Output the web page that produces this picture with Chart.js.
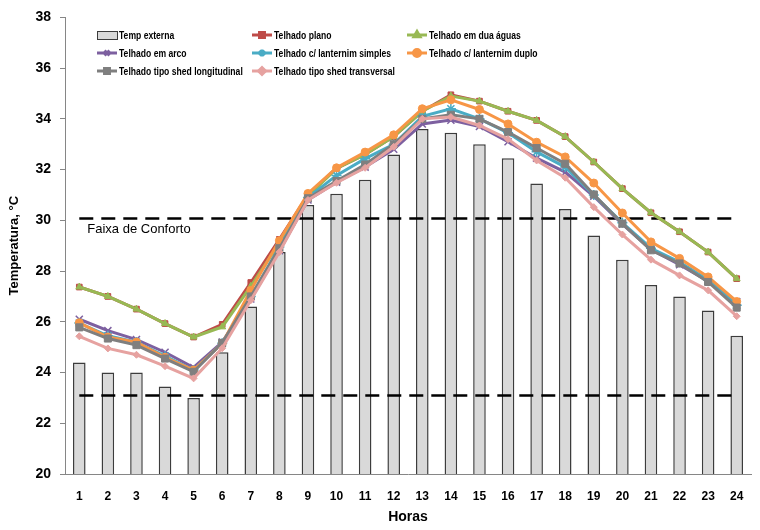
<!DOCTYPE html>
<html>
<head>
<meta charset="utf-8">
<script src="https://cdn.jsdelivr.net/npm/chart.js@4.4.1/dist/chart.umd.min.js"></script>
<style>
  html, body { margin: 0; padding: 0; background: #ffffff; }
  #wrap { width: 760px; height: 530px; }
</style>
</head>
<body>
<div id="wrap"><canvas id="c" width="760" height="530"></canvas></div>
<script>
// ---- Data ----
const HOURS = ['1','2','3','4','5','6','7','8','9','10','11','12','13','14','15','16','17','18','19','20','21','22','23','24'];
const SERIES_NAMES = ['Temp externa','Telhado plano','Telhado em dua águas','Telhado em arco','Telhado c/ lanternim simples','Telhado c/ lanternim duplo','Telhado tipo shed longitudinal','Telhado tipo shed transversal'];
const TEMP_EXTERNA = [24.4, 24.0, 24.0, 23.45, 23.0, 24.8, 26.6, 28.75, 30.6, 31.05, 31.6, 32.6, 33.6, 33.45, 33.0, 32.45, 31.45, 30.45, 29.4, 28.45, 27.45, 27.0, 26.45, 25.45];
const TELHADO_PLANO = [27.37, 27.0, 26.5, 25.93, 25.4, 25.9, 27.55, 29.25, 31.0, 32.05, 32.6, 33.3, 34.3, 34.95, 34.7, 34.3, 33.94, 33.3, 32.3, 31.25, 30.3, 29.55, 28.75, 27.7];
const TELHADO_DUAS_AGUAS = [27.37, 27.0, 26.5, 25.93, 25.4, 25.8, 27.4, 29.1, 30.95, 32.05, 32.6, 33.3, 34.3, 34.9, 34.7, 34.3, 33.94, 33.3, 32.3, 31.25, 30.3, 29.55, 28.75, 27.7];
const TELHADO_ARCO = [26.1, 25.65, 25.3, 24.8, 24.2, 25.2, 26.9, 28.8, 30.8, 31.5, 32.1, 32.8, 33.8, 33.95, 33.7, 33.1, 32.45, 31.9, 30.95, 29.85, 28.85, 28.25, 27.6, 26.8];
const TELHADO_LANT_SIMPLES = [25.95, 25.45, 25.2, 24.65, 24.1, 25.15, 27.0, 28.95, 30.9, 31.77, 32.43, 33.0, 34.1, 34.4, 34.0, 33.45, 32.7, 32.1, 31.0, 29.9, 28.9, 28.35, 27.65, 26.65];
const TELHADO_LANT_DUPLO = [25.96, 25.4, 25.2, 24.6, 24.1, 25.15, 27.24, 29.2, 31.06, 32.07, 32.69, 33.37, 34.4, 34.75, 34.37, 33.8, 33.08, 32.5, 31.47, 30.29, 29.15, 28.5, 27.77, 26.8];
const TELHADO_SHED_LONG = [25.78, 25.34, 25.08, 24.55, 24.03, 25.17, 27.0, 28.9, 30.87, 31.55, 32.2, 33.0, 34.0, 34.16, 34.0, 33.48, 32.85, 32.23, 31.02, 29.87, 28.82, 28.3, 27.57, 26.56];
const TELHADO_SHED_TRANSV = [25.43, 24.95, 24.7, 24.25, 23.77, 24.96, 26.85, 28.75, 30.8, 31.48, 32.07, 32.9, 34.0, 34.07, 33.74, 33.2, 32.36, 31.68, 30.52, 29.44, 28.45, 27.83, 27.24, 26.22];
const COMFORT_LIMITS = [23.1, 30.1];
const COMFORT_LABEL = 'Faixa de Conforto';
const Y_TICKS = [20, 22, 24, 26, 28, 30, 32, 34, 36, 38];
const X_TITLE = 'Horas';
const Y_TITLE = 'Temperatura, °C';

// ---- Styles ----
const FONT = "'Liberation Sans', Arial, sans-serif";
const LEGEND_FONT = "bold 11px 'Liberation Sans', Arial, sans-serif";
const LEGEND_SQUEEZE = 0.78;

function lineDs(label, data, color, style, radius, order) {
  return {
    type: 'line', label, data,
    borderColor: color, backgroundColor: color,
    pointBorderColor: color, pointBackgroundColor: color,
    borderWidth: 3, tension: 0,
    pointStyle: style, pointRadius: radius, pointBorderWidth: (style === 'crossRot' || style === 'star') ? 1.5 : 1,
    order
  };
}

const datasets = [
  { type: 'bar', label: SERIES_NAMES[0], data: TEMP_EXTERNA,
    backgroundColor: '#D9D9D9', borderColor: '#3c3c3c', borderWidth: 1.5,
    barPercentage: 0.44, categoryPercentage: 1.0, order: 20 },
  lineDs(SERIES_NAMES[1], TELHADO_PLANO, '#BE4B48', 'rect', 4, 8),
  lineDs(SERIES_NAMES[2], TELHADO_DUAS_AGUAS, '#98B954', 'triangle', 4, 7),
  lineDs(SERIES_NAMES[3], TELHADO_ARCO, '#7D60A0', 'crossRot', 5, 6),
  lineDs(SERIES_NAMES[4], TELHADO_LANT_SIMPLES, '#4AACC5', 'star', 5, 5),
  lineDs(SERIES_NAMES[5], TELHADO_LANT_DUPLO, '#F79646', 'circle', 4, 4),
  lineDs(SERIES_NAMES[6], TELHADO_SHED_LONG, '#7F7F7F', 'rect', 5, 3),
  lineDs(SERIES_NAMES[7], TELHADO_SHED_TRANSV, '#E6A2A0', 'rectRot', 3.5, 2)
];

// Comfort band dashed lines drawn right after the bars
const comfortPlugin = {
  id: 'comfort',
  afterDatasetDraw(chart, args) {
    if (args.index !== 0) return;
    const ctx = chart.ctx, x = chart.scales.x, y = chart.scales.y;
    const x0 = x.getPixelForValue(0), x1 = x.getPixelForValue(HOURS.length - 1);
    ctx.save();
    ctx.strokeStyle = '#000';
    ctx.lineWidth = 2.5;
    ctx.setLineDash([14, 8]);
    COMFORT_LIMITS.forEach(v => {
      const py = Math.round(y.getPixelForValue(v)) + 0.5;
      ctx.beginPath(); ctx.moveTo(x0, py); ctx.lineTo(x1, py); ctx.stroke();
    });
    ctx.setLineDash([]);
    ctx.fillStyle = '#000';
    ctx.font = '13px ' + FONT;
    ctx.textBaseline = 'middle';
    ctx.textAlign = 'left';
    ctx.fillText(COMFORT_LABEL, x0 + 8, y.getPixelForValue(Math.max(...COMFORT_LIMITS)) + 12);
    ctx.restore();
  }
};

// Legend in three columns inside the plot area
const legendPlugin = {
  id: 'gridLegend',
  afterDraw(chart) {
    const ctx = chart.ctx;
    const cols = [97, 252, 407];
    const rows = [35, 53, 71];
    ctx.save();
    ctx.font = LEGEND_FONT;
    ctx.textBaseline = 'middle';
    ctx.textAlign = 'left';
    chart.data.datasets.forEach((ds, i) => {
      const cx = cols[i % 3], cy = rows[Math.floor(i / 3)];
      if (ds.type === 'bar') {
        ctx.fillStyle = ds.backgroundColor;
        ctx.fillRect(cx, cy - 4, 20, 8);
        ctx.strokeStyle = ds.borderColor; ctx.lineWidth = 1;
        ctx.strokeRect(cx + 0.5, cy - 3.5, 20, 8);
      } else {
        ctx.strokeStyle = ds.borderColor; ctx.lineWidth = 3;
        ctx.beginPath(); ctx.moveTo(cx, cy); ctx.lineTo(cx + 20, cy); ctx.stroke();
        ctx.fillStyle = ds.backgroundColor;
        ctx.strokeStyle = ds.borderColor;
        Chart.helpers.drawPoint(ctx, {
          pointStyle: ds.pointStyle, radius: Math.min(ds.pointRadius, 3.5), rotation: 0,
          borderWidth: ds.pointBorderWidth
        }, cx + 10, cy);
      }
      ctx.fillStyle = '#000';
      ctx.save();
      ctx.translate(cx + 22, cy + 0.5);
      ctx.scale(LEGEND_SQUEEZE, 1);
      ctx.fillText(ds.label, 0, 0);
      ctx.restore();
    });
    ctx.restore();
  }
};

new Chart(document.getElementById('c'), {
  type: 'bar',
  data: { labels: HOURS, datasets },
  options: {
    responsive: false,
    animation: false,
    devicePixelRatio: 1,
    layout: { padding: { top: 17, right: 9, left: 0, bottom: 0 } },
    plugins: { legend: { display: false }, tooltip: { enabled: false } },
    elements: { point: { hoverRadius: 4 } },
    scales: {
      x: {
        offset: true,
        grid: { display: false, drawTicks: false },
        border: { display: true, color: '#868686', width: 1 },
        ticks: { color: '#000', font: { family: FONT, size: 12, weight: 'bold' }, padding: 15, maxRotation: 0, autoSkip: false },
        title: { display: true, text: X_TITLE, color: '#000', font: { family: FONT, size: 14, weight: 'bold' }, padding: { top: 0, bottom: 4 } },
        afterFit(s) { s.height = 56; }
      },
      y: {
        min: Y_TICKS[0], max: Y_TICKS[Y_TICKS.length - 1],
        afterBuildTicks(s) { s.ticks = Y_TICKS.map(v => ({ value: v })); },
        grid: { display: true, drawOnChartArea: false, drawTicks: true, tickLength: 5, color: '#868686' },
        border: { display: true, color: '#868686', width: 1 },
        ticks: { color: '#000', font: { family: FONT, size: 14, weight: 'bold' }, padding: 9 },
        title: { display: true, text: Y_TITLE, color: '#000', font: { family: FONT, size: 13, weight: 'bold' }, padding: { top: 7, bottom: 0 } },
        afterFit(s) { s.width = 65; }
      }
    }
  },
  plugins: [comfortPlugin, legendPlugin]
});
</script>
</body>
</html>
